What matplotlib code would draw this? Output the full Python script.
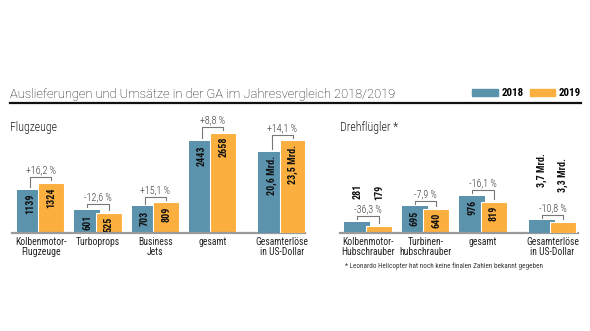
import numpy as np
import matplotlib
matplotlib.use("Agg")
import matplotlib.pyplot as plt
from matplotlib.lines import Line2D

# data
years = ["2018", "2019"]

plane_cats = ["Kolbenmotor-\nFlugzeuge", "Turboprops", "Business\nJets", "gesamt", "Gesamterlöse\nin US-Dollar"]
plane_2018 = [1139, 601, 703, 2443]
plane_2019 = [1324, 525, 809, 2658]
plane_rev_2018 = 20.6
plane_rev_2019 = 23.5
plane_pct = ["+16,2 %", "-12,6 %", "+15,1 %", "+8,8 %", "+14,1 %"]

heli_cats = ["Kolbenmotor-\nHubschrauber", "Turbinen-\nhubschrauber", "gesamt", "Gesamterlöse\nin US-Dollar"]
heli_2018 = [281, 695, 976]
heli_2019 = [179, 640, 819]
heli_rev_2018 = 3.7
heli_rev_2019 = 3.3
heli_pct = ["-36,3 %", "-7,9 %", "-16,1 %", "-10,8 %"]

BLUE = "#5b93ad"
ORANGE = "#fbaf3f"
COND = ["Roboto Condensed", "DejaVu Sans"]

W, H = 590, 331
fig = plt.figure(figsize=(W / 100, H / 100), dpi=100)

def fx(px):
    return px / W

def fy(py):
    return (H - py) / H

base_py, top_py = 232.5, 100
ax_h = base_py - top_py

def px2data(ax, px):
    y0, y1 = ax.get_ylim()
    return px * (y1 - y0) / ax_h

def fmt(v):
    return f"{v:.1f}".replace(".", ",") + " Mrd."

def draw_panel(ax, rax, cats, v18, v19, r18, r19, pct, lifts):
    n = len(v18)
    x = np.arange(n + 1, dtype=float)
    x[-1] = n - 1 + 1.215
    w, off = 0.454, 0.1875
    for a, vals_b, vals_o, xs in [(ax, v18, v19, x[:-1]), (rax, [r18], [r19], x[-1:])]:
        a.bar(xs - off, vals_b, w, color=BLUE, zorder=2)
        a.bar(xs + off, vals_o, w, color=ORANGE, edgecolor="white", linewidth=0.8, zorder=3)
    labels_b = [str(v) for v in v18] + [fmt(r18)]
    labels_o = [str(v) for v in v19] + [fmt(r19)]
    for i in range(n + 1):
        a = ax if i < n else rax
        tb = v18[i] if i < n else r18
        to = v19[i] if i < n else r19
        for xv, tv, lab, lift in [(x[i] - off, tb, labels_b[i], lifts[i][0]),
                                  (x[i] + off, to, labels_o[i], lifts[i][1])]:
            if lift is None:
                a.annotate(lab, (xv, tv), xytext=(0, -3), textcoords="offset points",
                           rotation=90, ha="center", va="top", fontsize=7.2,
                           fontweight="bold", family=COND, color="#111", zorder=5)
            else:
                a.annotate(lab, (xv, tv), xytext=(0, lift), textcoords="offset points",
                           rotation=90, ha="center", va="bottom", fontsize=7.2,
                           fontweight="bold", family=COND, color="#111", zorder=5)
        # bracket with percent change
        g = px2data(a, 2.5)
        yb = max(tb, to) + px2data(a, 5.5)
        a.plot([x[i] - off, x[i] - off, x[i] + off, x[i] + off],
               [tb + g, yb, yb, to + g], color="#777", lw=0.8, clip_on=False, zorder=4)
        a.text(x[i], yb + px2data(a, 6.5), pct[i], ha="center", va="center",
               fontsize=7.2, family=COND, fontweight="light", color="#333")
    ax.set_xticks(x)
    ax.set_xticklabels(cats, family=COND, fontsize=6.9, linespacing=1.05, color="#222")
    ax.tick_params(axis="x", length=0, pad=3)
    ax.set_yticks([])
    rax.set_yticks([])
    for a in (ax, rax):
        for s in ["top", "left", "right", "bottom"]:
            a.spines[s].set_visible(False)
    ax.spines["bottom"].set_visible(True)
    ax.spines["bottom"].set_color("#9a9a9a")
    ax.spines["bottom"].set_linewidth(1.6)
    ax.spines["bottom"].set_zorder(6)

# left panel: aircraft
axL = fig.add_axes([fx(12), fy(base_py), fx(293), ax_h / H])
axL.set_xlim(-0.501, 4.612)
axL.set_ylim(0, ax_h / 0.0375)
raxL = axL.twinx()
raxL.set_ylim(0, ax_h / 3.92)
draw_panel(axL, raxL, plane_cats, plane_2018, plane_2019, plane_rev_2018, plane_rev_2019,
           plane_pct, [(None, None)] * 5)

# right panel: rotorcraft
axR = fig.add_axes([fx(340), fy(base_py), fx(238), ax_h / H])
axR.set_xlim(-0.492, 3.662)
axR.set_ylim(0, ax_h / 0.0375)
raxR = axR.twinx()
raxR.set_ylim(0, ax_h / 3.3)
draw_panel(axR, raxR, heli_cats, heli_2018, heli_2019, heli_rev_2018, heli_rev_2019,
           heli_pct, [(16.3, 18.4), (None, None), (None, None), (24.2, 21.5)])

# title, rule, headings
fig.text(fx(10), fy(97.5), "Auslieferungen und Umsätze in der GA im Jahresvergleich 2018/2019",
         fontsize=9.3, family=["Roboto", "DejaVu Sans"], fontweight="light", color="#111",
         va="baseline")
fig.add_artist(Line2D([fx(10), fx(581)], [fy(102.7), fy(102.7)], color="#111", lw=1.6,
                      transform=fig.transFigure))
fig.text(fx(10), fy(131), "Flugzeuge", fontsize=8.6, family=COND, fontweight="light",
         color="#222", va="baseline")
fig.text(fx(340), fy(131.5), "Drehflügler *", fontsize=8.6, family=COND, fontweight="light",
         color="#222", va="baseline")

# legend
leg_handles = [plt.Rectangle((0, 0), 1, 1, color=BLUE), plt.Rectangle((0, 0), 1, 1, color=ORANGE)]
fig.legend(leg_handles, years, loc="center right", bbox_to_anchor=(fx(581), fy(93.3)),
           ncol=2, frameon=False, handlelength=2.35, handleheight=0.75,
           handletextpad=0.35, columnspacing=0.55, borderpad=0, borderaxespad=0,
           prop={"family": COND, "weight": "bold", "size": 7.8})

# footnote
fig.text(fx(345), fy(268), "* Leonardo Helicopter hat noch keine finalen Zahlen bekannt gegeben",
         fontsize=5.15, family=COND, color="#333", va="baseline")

fig.savefig("out.png", dpi=100, facecolor="white")
